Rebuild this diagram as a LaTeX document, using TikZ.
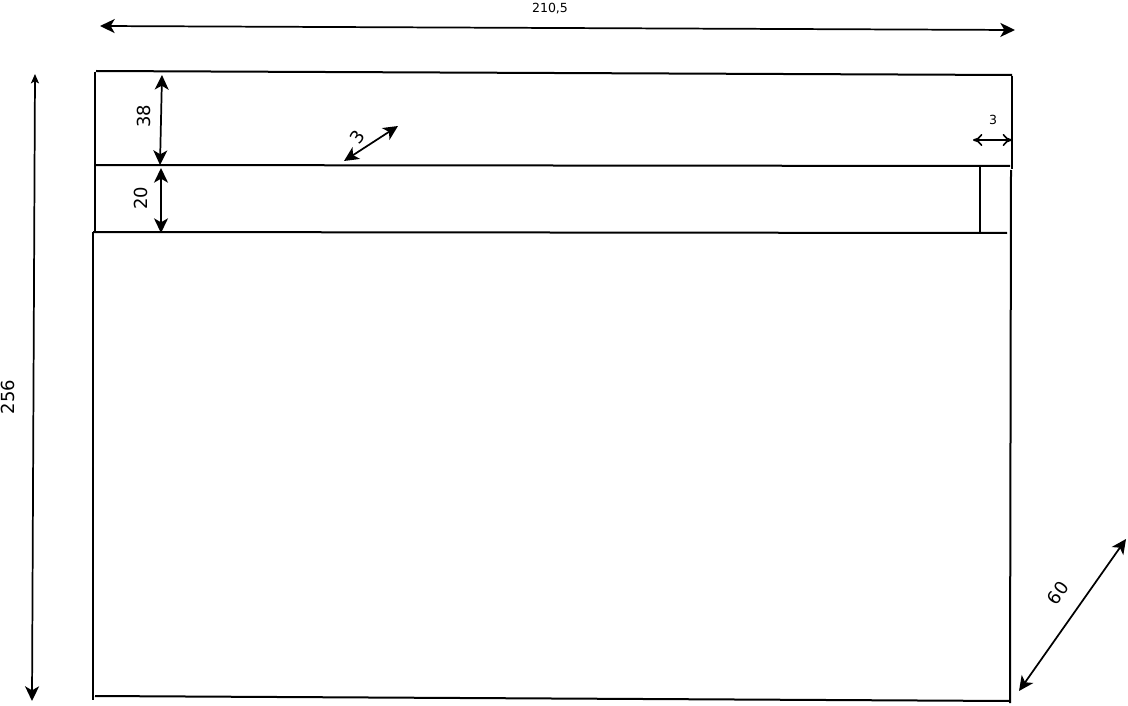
\documentclass[tikz,border=0pt]{standalone}
\usepackage{fontspec}
\setmainfont{DejaVu Sans}
\usetikzlibrary{arrows.meta,positioning,calc}

\tikzset{
    sheet/.style={line width=1.5pt},
    dimarrow/.style={line width=1.3pt,{Stealth[length=11pt,width=10.5pt,inset=3pt]}-{Stealth[length=11pt,width=10.5pt,inset=3pt]}},
    thinarrow/.style={line width=1.3pt,{Stealth[length=7pt,width=6pt,inset=1.5pt]}-{Stealth[length=11pt,width=10.5pt,inset=3pt]}},
    openarrow/.style={line width=1.2pt,{To[length=7pt,width=9pt]}-{To[length=7pt,width=9pt]}},
    biglabel/.style={font=\fontsize{13.5}{14}\selectfont,inner sep=0pt},
    smalllabel/.style={font=\fontsize{9.4}{10}\selectfont,inner sep=0pt},
}

\begin{document}
\begin{tikzpicture}[x=0.75pt,y=-0.75pt]
    \useasboundingbox (0,0) rectangle (1128,706);

    % outline of the sheet
    \draw[sheet] (96,71) -- (1012,75);
    \draw[sheet] (95,72) -- (95,232);
    \draw[sheet] (93,232) -- (93,700);
    \draw[sheet] (1012,76) -- (1012,169);
    \draw[sheet] (1011,170) -- (1010,703);
    \draw[sheet] (95,696) -- (1010,701);

    % inner band
    \draw[sheet] (95,165) -- (1010,166);
    \draw[sheet] (93,232) -- (1007,233);
    \draw[sheet] (980,166) -- (980,233);

    % end points of the dimension arrows
    \coordinate (widthL) at (100,26);
    \coordinate (widthR) at (1015,30);
    \coordinate (heightT) at (35,74);
    \coordinate (heightB) at (32,701);
    \coordinate (topT) at (162,75);
    \coordinate (topB) at (160,165);
    \coordinate (bandT) at (161,168);
    \coordinate (bandB) at (161,233);
    \coordinate (slantL) at (344,161);
    \coordinate (slantR) at (398,126);
    \coordinate (edgeL) at (973,140);
    \coordinate (edgeR) at (1012,140);
    \coordinate (depthL) at (1019,691);
    \coordinate (depthR) at (1126,539);

    \draw[dimarrow] (widthL) -- (widthR);
    \draw[thinarrow] (heightT) -- (heightB);
    \draw[dimarrow] (topT) -- (topB);
    \draw[dimarrow] (bandT) -- (bandB);
    \draw[dimarrow] (slantL) -- (slantR);
    \draw[openarrow] (edgeL) -- (edgeR);
    \draw[dimarrow] (depthL) -- (depthR);

    \node[smalllabel] (widthlabel) at (550,9) {210,5};
    \node[biglabel,rotate=90] (heightlabel) at (8,397) {256};
    \node[biglabel,rotate=90] (toplabel) at (144,116) {38};
    \node[biglabel,rotate=90] (bandlabel) at (141,198) {20};
    \node[biglabel,rotate=55] (slantlabel) at (357,137) {3};
    \node[smalllabel] (edgelabel) at (993,120) {3};
    \node[biglabel,rotate=55] (depthlabel) at (1058,593) {60};
\end{tikzpicture}
\end{document}
